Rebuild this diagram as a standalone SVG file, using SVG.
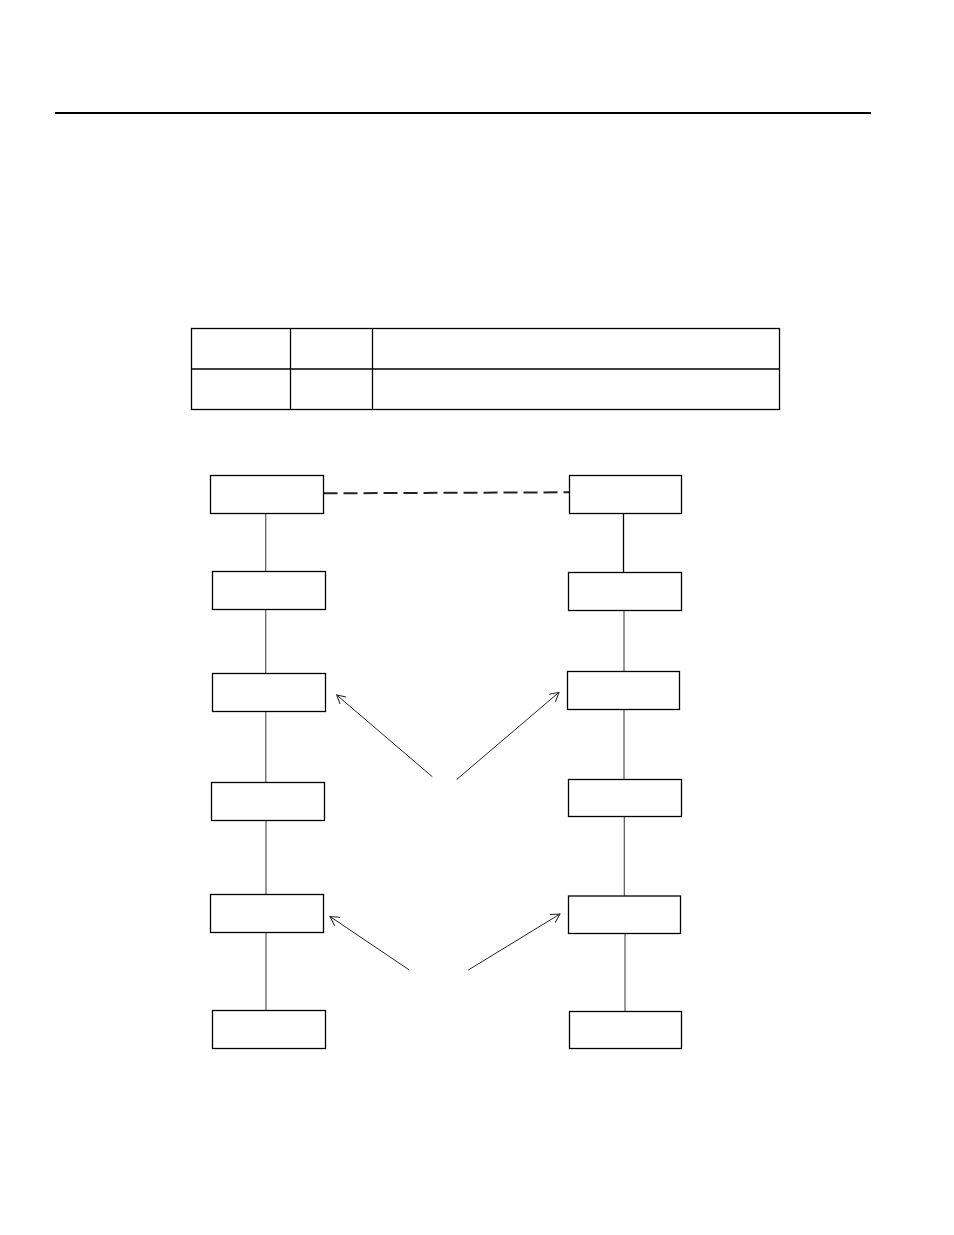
<svg xmlns="http://www.w3.org/2000/svg" width="954" height="1235" viewBox="0 0 954 1235">
<style>
.box{fill:#fff;stroke:#000;stroke-width:1.3}
.tbl{fill:none;stroke:#000;stroke-width:1.3}
.link{stroke:#555;stroke-width:1.2;fill:none}
.arrow{stroke:#222;stroke-width:1;fill:none;marker-end:url(#open)}
</style>
<defs>
<marker id="open" viewBox="0 0 10 10" refX="9" refY="5" markerWidth="10" markerHeight="10" markerUnits="userSpaceOnUse" orient="auto">
<path d="M0,0 L9,5 L0,10" fill="none" stroke="#222" stroke-width="1"/>
</marker>
</defs>
<rect width="954" height="1235" fill="#fff"/>
<line x1="55" y1="113" x2="871" y2="113" stroke="#000" stroke-width="2.2"/>
<g id="table">
<rect class="tbl" x="191.5" y="328.5" width="588" height="81"/>
<line class="tbl" x1="191.5" y1="369" x2="779.5" y2="369"/>
<line class="tbl" x1="290.5" y1="328.5" x2="290.5" y2="409.5"/>
<line class="tbl" x1="372.5" y1="328.5" x2="372.5" y2="409.5"/>
</g>
<g id="connectors">
<line x1="323.5" y1="493.3" x2="569" y2="492.3" stroke="#222" stroke-width="2" stroke-dasharray="14 6"/>
<line class="link" x1="265.7" y1="513" x2="265.7" y2="572"/>
<line class="link" x1="265.7" y1="609" x2="265.7" y2="674"/>
<line class="link" x1="265.8" y1="711" x2="265.8" y2="782"/>
<line class="link" x1="266" y1="820" x2="266" y2="894"/>
<line class="link" x1="266" y1="932" x2="266" y2="1010"/>
<line x1="623.5" y1="512" x2="623.5" y2="572" stroke="#000" stroke-width="1.3"/>
<line class="link" x1="624" y1="610" x2="624" y2="671"/>
<line class="link" x1="624" y1="709" x2="624" y2="779"/>
<line class="link" x1="624.3" y1="816" x2="624.3" y2="896"/>
<line class="link" x1="625" y1="933" x2="625" y2="1011"/>
<line class="arrow" x1="432.3" y1="776.7" x2="336.7" y2="695"/>
<line class="arrow" x1="456.7" y1="779.5" x2="559" y2="692.3"/>
<line class="arrow" x1="409.3" y1="970" x2="330" y2="916.5"/>
<line class="arrow" x1="468.3" y1="970" x2="560" y2="914"/>
</g>
<g id="L1"><rect class="box" x="210.5" y="475.5" width="113" height="38"/></g>
<g id="L2"><rect class="box" x="212.5" y="571.5" width="113" height="38"/></g>
<g id="L3"><rect class="box" x="212.5" y="673.5" width="113" height="38"/></g>
<g id="L4"><rect class="box" x="211.5" y="782.5" width="113" height="38"/></g>
<g id="L5"><rect class="box" x="210.5" y="894.5" width="113" height="38"/></g>
<g id="L6"><rect class="box" x="212.5" y="1010.5" width="113" height="38"/></g>
<g id="R1"><rect class="box" x="569.5" y="475.5" width="112" height="38"/></g>
<g id="R2"><rect class="box" x="568.5" y="572.5" width="113" height="38"/></g>
<g id="R3"><rect class="box" x="567.5" y="671.5" width="112" height="38"/></g>
<g id="R4"><rect class="box" x="568.5" y="779.5" width="113" height="37"/></g>
<g id="R5"><rect class="box" x="568.5" y="896" width="112" height="37.5"/></g>
<g id="R6"><rect class="box" x="569.5" y="1011.5" width="112" height="37"/></g>
</svg>
